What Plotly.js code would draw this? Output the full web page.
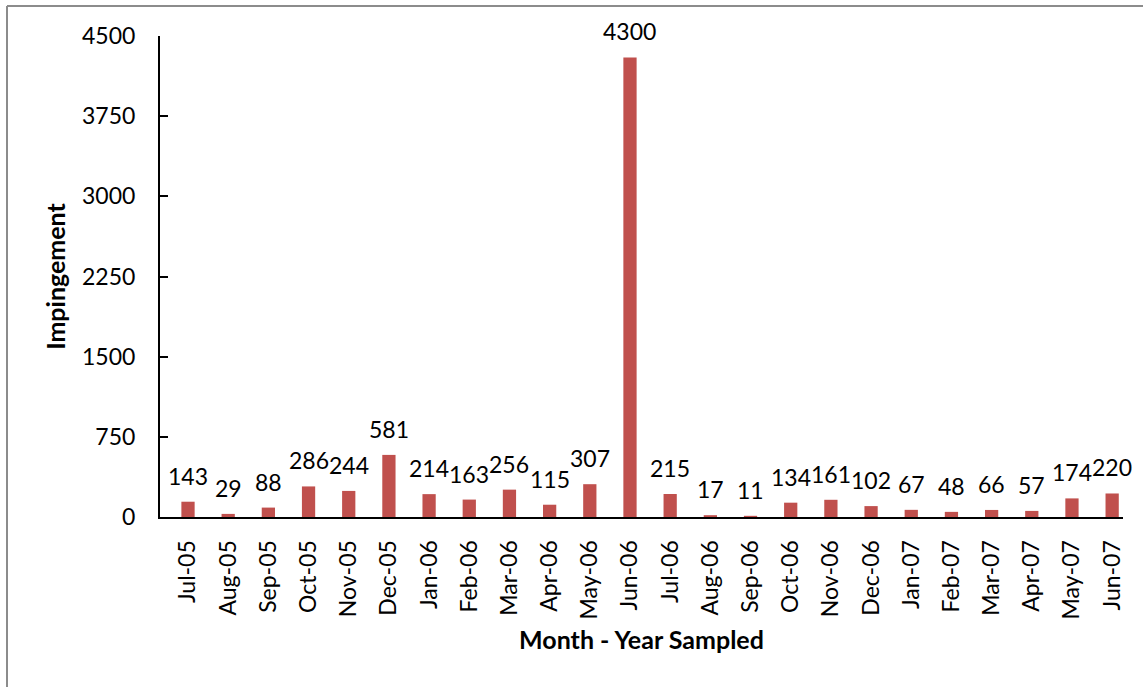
<!DOCTYPE html>
<html>
<head>
<meta charset="utf-8">
<script src="https://cdn.plot.ly/plotly-3.0.1.min.js"></script>
<style>
  html, body { margin: 0; padding: 0; background: #fff; }
  #chart { width: 1143px; height: 687px; }
</style>
</head>
<body>
<div id="chart"></div>
<script>
const months = ["Jul-05","Aug-05","Sep-05","Oct-05","Nov-05","Dec-05","Jan-06","Feb-06","Mar-06","Apr-06","May-06","Jun-06",
                "Jul-06","Aug-06","Sep-06","Oct-06","Nov-06","Dec-06","Jan-07","Feb-07","Mar-07","Apr-07","May-07","Jun-07"];
const impingement = [143,29,88,286,244,581,214,163,256,115,307,4300,215,17,11,134,161,102,67,48,66,57,174,220];
const yTicks = [0,750,1500,2250,3000,3750,4500];

const FONT = "Lato, 'DejaVu Sans', sans-serif";
const L = 160, R = 1123, T = 36, B = 517;
const W = R - L, H = B - T;
const px = x => (x - L) / W;
const py = y => (B - y) / H;

const trace = {
  type: "bar",
  x: months.map((m, i) => i),
  y: impingement,
  width: 0.33,
  marker: { color: "#C0504D", line: { width: 0 } },
  hoverinfo: "x+y"
};

const annotations = impingement.map((v, i) => ({
  x: i, y: v, xref: "x", yref: "y",
  text: String(v), showarrow: false,
  yanchor: "bottom", xanchor: "center", yshift: 10,
  font: { family: FONT, size: 23, color: "#000" }
}));

const layout = {
  width: 1143, height: 687,
  margin: { l: L, r: 1143 - R, t: T, b: 687 - B, pad: 0 },
  paper_bgcolor: "#fff", plot_bgcolor: "#fff",
  showlegend: false,
  font: { family: FONT, size: 23, color: "#000" },
  xaxis: {
    range: [-0.697, 23.27],
    tickmode: "array",
    tickvals: months.map((m, i) => i),
    ticktext: months,
    tickangle: -90,
    ticks: "",
    ticklabelstandoff: 12,
    showline: true, linecolor: "#000", linewidth: 2,
    showgrid: false, zeroline: false,
    tickfont: { family: FONT, size: 23, color: "#000" },
    title: { text: "Month - Year Sampled", standoff: 13,
             font: { family: FONT, size: 25, color: "#000", weight: "bold" } },
    automargin: false, fixedrange: true
  },
  yaxis: {
    range: [0, 4500],
    tickmode: "array",
    tickvals: yTicks,
    ticktext: yTicks.map(String),
    ticks: "inside", ticklen: 8, tickwidth: 2, tickcolor: "#000",
    ticklabelstandoff: 18,
    showline: true, linecolor: "#000", linewidth: 2,
    showgrid: false, zeroline: false,
    tickfont: { family: FONT, size: 23, color: "#000" },
    title: { text: "Impingement", standoff: 9,
             font: { family: FONT, size: 25, color: "#000", weight: "bold" } },
    automargin: false, fixedrange: true
  },
  annotations: annotations,
  shapes: [
    { type: "line", xref: "paper", yref: "paper", x0: px(7), x1: px(1150), y0: py(6), y1: py(6),
      line: { color: "#8c8c8c", width: 2 } },
    { type: "line", xref: "paper", yref: "paper", x0: px(7), x1: px(7), y0: py(6), y1: py(700),
      line: { color: "#8c8c8c", width: 2 } }
  ]
};

Plotly.newPlot("chart", [trace], layout, { displayModeBar: false, staticPlot: true });
</script>
</body>
</html>
